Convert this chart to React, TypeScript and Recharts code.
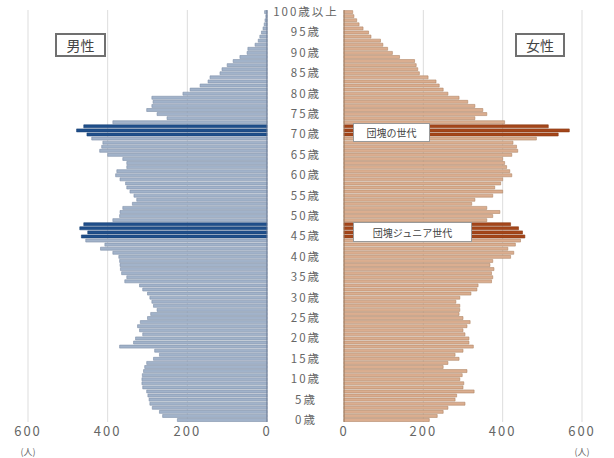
import { BarChart, Bar, XAxis, YAxis, CartesianGrid, Cell, ReferenceLine } from 'recharts';

// population by single year of age, index = age (0..100, 100 = 100歳以上)
const MALE = [
  225, 262, 270, 288, 294, 296, 299, 302, 312, 314,
  314, 313, 310, 307, 302, 285, 270, 282, 370, 335,
  330, 312, 320, 325, 318, 300, 292, 276, 285, 289,
  294, 300, 312, 320, 357, 352, 365, 368, 369, 370,
  372, 387, 418, 407, 455, 466, 450, 470, 460, 387,
  370, 369, 362, 338, 327, 334, 344, 352, 355, 369,
  380, 377, 352, 352, 362, 400, 420, 415, 412, 440,
  452, 478, 460, 387, 251, 276, 302, 289, 286, 289,
  211, 193, 168, 148, 143, 118, 113, 100, 85, 68,
  50, 48, 30, 22, 18, 14, 10, 7, 5, 3,
  6,
];
const FEMALE = [
  215, 235, 250, 262, 305, 280, 284, 328, 300, 302,
  292, 298, 310, 250, 262, 290, 280, 300, 326, 315,
  315, 305, 300, 310, 318, 300, 290, 292, 292, 282,
  292, 320, 335, 338, 372, 375, 372, 378, 368, 375,
  420, 428, 413, 432, 445, 456, 450, 440, 420, 360,
  375, 393, 360, 322, 330, 375, 400, 380, 395, 400,
  423, 418, 410, 405, 400, 423, 438, 435, 426, 485,
  540, 568, 515, 405, 330, 360, 350, 330, 312, 290,
  262, 250, 240, 232, 212, 190, 186, 182, 178, 140,
  122, 110, 98, 92, 68, 62, 48, 38, 32, 25,
  22,
];
const DANKAI = [70, 71, 72];
const DANKAI_JR = [45, 46, 47, 48];
const VALUE_TICKS = [0, 200, 400, 600];

// oldest first so age 100 sits at the top
const rows = MALE.map((_, i) => {
  const age = MALE.length - 1 - i;
  return { age, male: MALE[age], female: FEMALE[age] };
});
const isHighlight = (age: number) => DANKAI.includes(age) || DANKAI_JR.includes(age);

const FONT = '"Noto Sans CJK JP", "Noto Sans", sans-serif';

function ValueTick(props: any) {
  const { x, y, payload } = props;
  return (
    <g>
      <text x={x} y={y + 6} textAnchor="middle" fontSize={13} fill="#666" letterSpacing={2} fontFamily={FONT}>
        {payload.value}
      </text>
      {payload.value === 600 && (
        <text x={x} y={y + 25} textAnchor="middle" fontSize={9} fill="#666" fontFamily={FONT}>(人)</text>
      )}
    </g>
  );
}

function AgeTick(props: any) {
  const { y, payload } = props;
  const label = payload.value === 100 ? '100歳以上' : `${payload.value}歳`;
  return (
    <text x={39} y={y + 4} textAnchor="middle" fontSize={11.5} fill="#666" letterSpacing={2} fontFamily={FONT}>
      {label}
    </text>
  );
}

const boxStyle = (left: number, top: number, width: number, height: number, fontSize: number, border: string) => ({
  position: 'absolute' as const, left, top, width, height, boxSizing: 'border-box' as const,
  border, background: '#fff', color: '#444', fontSize, fontFamily: FONT,
  display: 'flex', alignItems: 'center', justifyContent: 'center',
});

export default function App() {
  return (
    <div style={{ position: 'absolute', left: 0, top: 0, width: 614, height: 458, background: '#fff', fontFamily: FONT }}>
      <div style={{ position: 'absolute', left: 0, top: 0 }}>
        <BarChart layout="vertical" width={280} height={458} data={rows} margin={{ top: 10, right: 13, bottom: 11, left: 28 }} barCategoryGap={0.6}>
          <CartesianGrid horizontal={false} stroke="#dddddd" />
          <XAxis type="number" domain={[0, 600]} ticks={VALUE_TICKS} reversed axisLine={false} tickLine={false} height={25} interval={0} tick={(p: any) => <ValueTick {...p} />} />
          <YAxis type="category" dataKey="age" hide />
          <Bar dataKey="male" isAnimationActive={false} stroke="#7e8ea8" strokeWidth={0.6}>
            {rows.map((r) => <Cell key={r.age} fill={isHighlight(r.age) ? '#1f4f8b' : '#a2b3ca'} stroke={isHighlight(r.age) ? '#1a4275' : '#7e8ea8'} />)}
          </Bar>
          <ReferenceLine x={0} stroke="#6f7f99" />
        </BarChart>
      </div>
      <div style={{ position: 'absolute', left: 267, top: 0 }}>
        <BarChart layout="vertical" width={347} height={458} data={rows} margin={{ top: 10, right: 32, bottom: 11, left: 0 }} barCategoryGap={0.6}>
          <CartesianGrid horizontal={false} stroke="#dddddd" />
          <XAxis type="number" domain={[0, 600]} ticks={VALUE_TICKS} axisLine={false} tickLine={false} height={25} interval={0} tick={(p: any) => <ValueTick {...p} />} />
          <YAxis type="category" dataKey="age" width={77} axisLine={false} tickLine={false} interval={4} tick={(p: any) => <AgeTick {...p} />} />
          <Bar dataKey="female" isAnimationActive={false} stroke="#b08767" strokeWidth={0.6}>
            {rows.map((r) => <Cell key={r.age} fill={isHighlight(r.age) ? '#a5461a' : '#dbae90'} stroke={isHighlight(r.age) ? '#8a3a14' : '#b08767'} />)}
          </Bar>
          <ReferenceLine x={0} stroke="#a07c60" />
        </BarChart>
      </div>
      <div style={boxStyle(55, 33, 51, 24, 14, '2px solid #707070')}>男性</div>
      <div style={boxStyle(515, 33, 50, 24, 14, '2px solid #707070')}>女性</div>
      <div style={boxStyle(353, 123, 77, 19, 10, '1px solid #999')}>団塊の世代</div>
      <div style={boxStyle(353, 222, 119, 20, 10, '1px solid #999')}>団塊ジュニア世代</div>
    </div>
  );
}
